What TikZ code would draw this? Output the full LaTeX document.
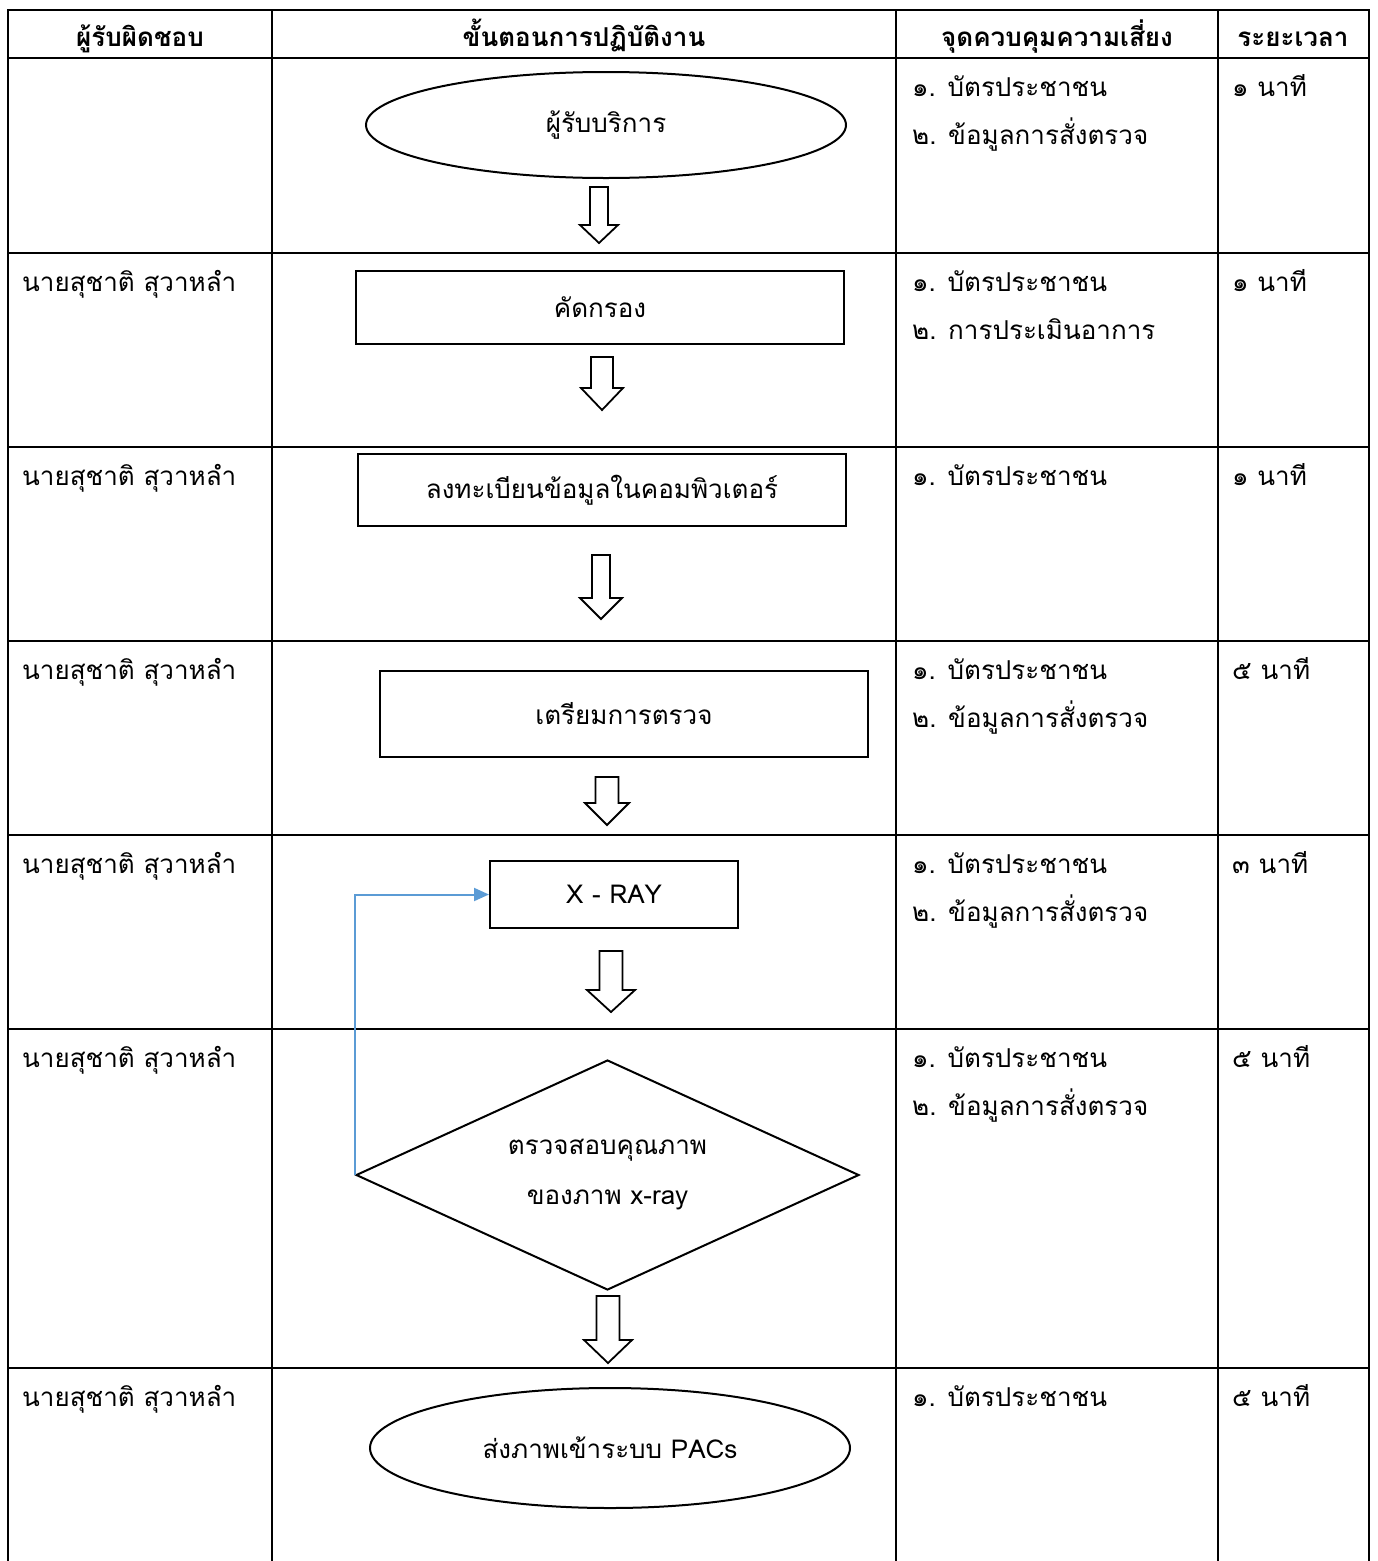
\documentclass[tikz,border=0pt]{standalone}
\usepackage{fontspec}
\setmainfont[Script=Thai]{Loma}
\usetikzlibrary{shapes.geometric,arrows.meta}

% hollow block arrow pointing down: x, top, head start, tip, shaft half-width, head half-width
\newcommand\hollowdown[6]{%
  \draw[blockarrow] (#1-#5,#2) -- (#1+#5,#2) -- (#1+#5,#3) -- (#1+#6,#3)
    -- (#1,#4) -- (#1-#6,#3) -- (#1-#5,#3) -- cycle;}

\tikzset{
  grid/.style={line width=2.3pt},
  blockarrow/.style={line width=1.8pt, line join=miter},
  shapeline/.style={draw, line width=2pt, inner sep=0pt, font=\fontsize{26}{30}\selectfont},
  headtxt/.style={font=\bfseries\fontsize{26}{30}\selectfont, anchor=base},
  celltxt/.style={font=\fontsize{26}{30}\selectfont, anchor=base west, inner sep=0pt},
  loopback/.style={draw=linkblue, line width=2pt, -{Triangle[length=15pt,width=13pt]}},
}
\definecolor{linkblue}{HTML}{5B9BD5}

\begin{document}
\begin{tikzpicture}[x=1pt,y=-1pt]
\useasboundingbox (0,0) rectangle (1377,1561);

% table frame and rules
\foreach \yy in {10,58,253,447,641,835,1029,1368}
  \draw[grid] (7,\yy) -- (1370,\yy);
\foreach \xx in {8,272,896,1218,1369}
  \draw[grid] (\xx,9) -- (\xx,1561);

% header row
\node[headtxt] (h1) at (140,46) {ผู้รับผิดชอบ};
\node[headtxt] (h2) at (584,46) {ขั้นตอนการปฏิบัติงาน};
\node[headtxt] (h3) at (1057,46) {จุดควบคุมความเสี่ยง};
\node[headtxt] (h4) at (1293,46) {ระยะเวลา};

% responsible person column
\foreach \rt [count=\i] in {253,447,641,835,1029,1368}
  \node[celltxt] (who\i) at (22,\rt+38) {นายสุชาติ สุวาหลำ};

% risk control column
\node[celltxt] (r1a) at (912,96) {๑. บัตรประชาชน};
\node[celltxt] (r1b) at (912,144) {๒. ข้อมูลการสั่งตรวจ};
\node[celltxt] (r2a) at (912,291) {๑. บัตรประชาชน};
\node[celltxt] (r2b) at (912,339) {๒. การประเมินอาการ};
\node[celltxt] (r3a) at (912,485) {๑. บัตรประชาชน};
\node[celltxt] (r4a) at (912,679) {๑. บัตรประชาชน};
\node[celltxt] (r4b) at (912,727) {๒. ข้อมูลการสั่งตรวจ};
\node[celltxt] (r5a) at (912,873) {๑. บัตรประชาชน};
\node[celltxt] (r5b) at (912,921) {๒. ข้อมูลการสั่งตรวจ};
\node[celltxt] (r6a) at (912,1067) {๑. บัตรประชาชน};
\node[celltxt] (r6b) at (912,1115) {๒. ข้อมูลการสั่งตรวจ};
\node[celltxt] (r7a) at (912,1406) {๑. บัตรประชาชน};

% duration column
\node[celltxt] (t1) at (1232,96) {๑ นาที};
\node[celltxt] (t2) at (1232,291) {๑ นาที};
\node[celltxt] (t3) at (1232,485) {๑ นาที};
\node[celltxt] (t4) at (1232,679) {๕ นาที};
\node[celltxt] (t5) at (1232,873) {๓ นาที};
\node[celltxt] (t6) at (1232,1067) {๕ นาที};
\node[celltxt] (t7) at (1232,1406) {๕ นาที};

% process steps
\node[shapeline, ellipse, minimum width=480pt, minimum height=106pt] (start) at (606,125) {ผู้รับบริการ};
\node[shapeline, rectangle, minimum width=488pt, minimum height=73pt] (screen) at (600,307.5) {คัดกรอง};
\node[shapeline, rectangle, minimum width=488pt, minimum height=72pt] (register) at (602,490) {ลงทะเบียนข้อมูลในคอมพิวเตอร์};
\node[shapeline, rectangle, minimum width=488pt, minimum height=86pt] (prepare) at (624,714) {เตรียมการตรวจ};
\node[shapeline, rectangle, minimum width=248pt, minimum height=67pt] (xray) at (614,894.5) {X - RAY};
\node[shapeline, diamond, aspect=2.19, minimum width=503pt, minimum height=230pt, align=center,
      font=\fontsize{26}{50}\selectfont] (check) at (607.5,1175) {ตรวจสอบคุณภาพ\\ของภาพ x-ray};
\node[shapeline, ellipse, minimum width=480pt, minimum height=120pt] (send) at (610,1448) {ส่งภาพเข้าระบบ PACs};

% flow arrows between steps
\hollowdown{599}{187}{225}{243}{9}{19}
\hollowdown{602}{357}{388}{410}{11}{21}
\hollowdown{601}{555}{598}{619}{9}{21}
\hollowdown{607}{777}{803}{825}{11.5}{22}
\hollowdown{611}{951}{990}{1012}{11.5}{24}
\hollowdown{608}{1296}{1340}{1363}{11.5}{24}

% retake loop back to the X-ray step
\draw[loopback] (check.west) |- (xray.west);
\end{tikzpicture}
\end{document}
